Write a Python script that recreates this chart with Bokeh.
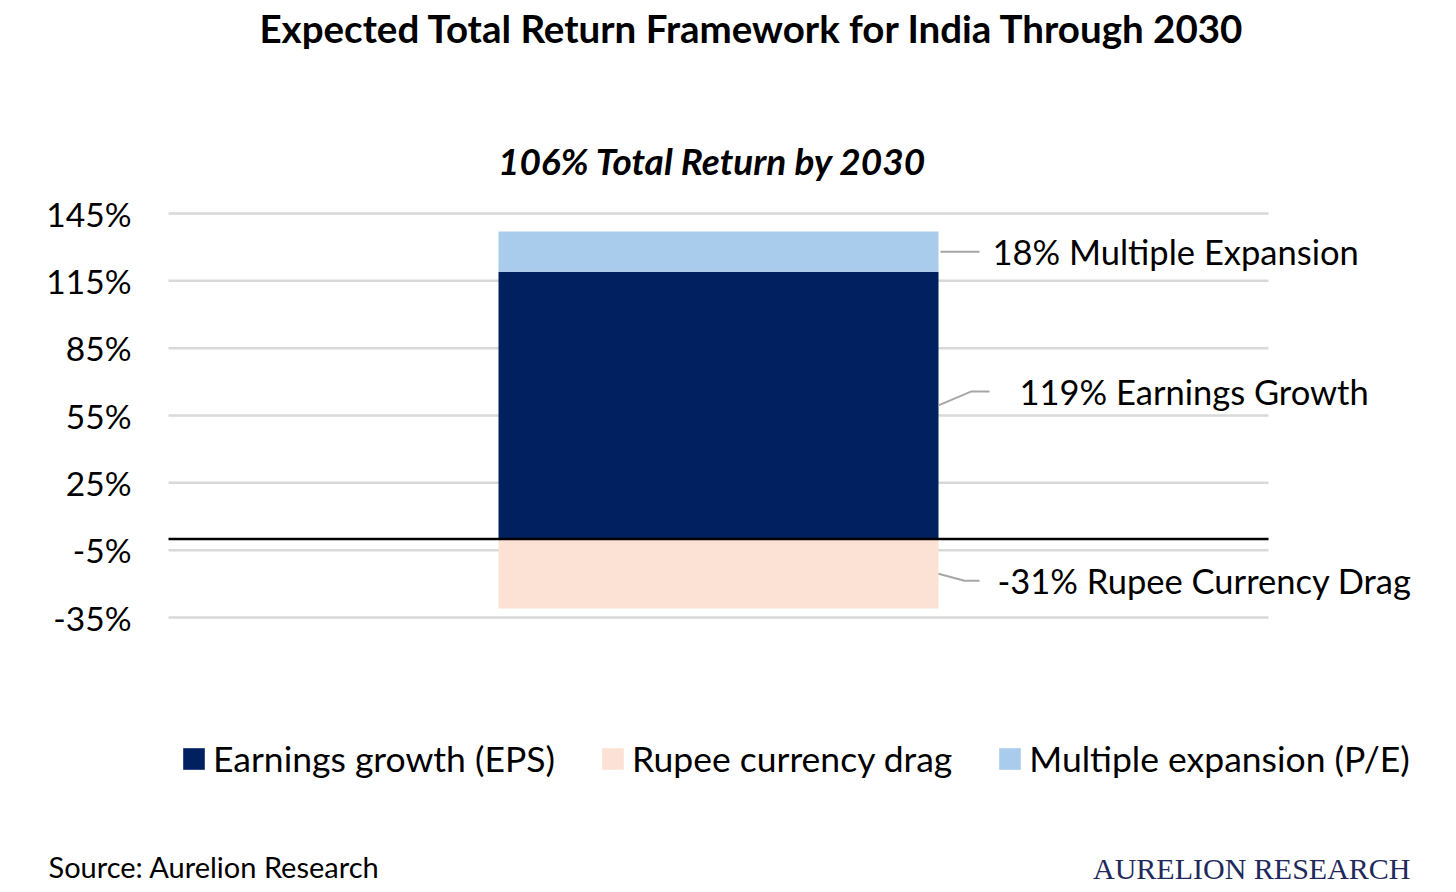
from bokeh.core.properties import value
from bokeh.models import Range1d, Label, Legend, LegendItem
from bokeh.plotting import figure
from bokeh.embed import file_html
from bokeh.resources import INLINE

# Data (percent)
categories = ["India"]
earnings_growth = [119]
multiple_expansion = [18]
rupee_drag = [-31]
y_ticks = [-35, -5, 25, 55, 85, 115, 145]
legend_labels = ["Earnings growth (EPS)", "Rupee currency drag", "Multiple expansion (P/E)"]

NAVY = "#002060"
LIGHT_BLUE = "#a9cbec"
PEACH = "#fbe2d5"
GRID = "#d9d9d9"
LEADER = "#a6a6a6"
FONT = "Lato"

# canvas and plotting-area geometry (pixels); the frame fills the whole canvas
W, H = 1452, 888
AREA_L, AREA_R, AREA_T, AREA_B = 168, 1268, 213, 617
px_x = 1.0 / (AREA_R - AREA_L)                         # x data units per pixel
px_y = (y_ticks[-1] - y_ticks[0]) / (AREA_B - AREA_T)  # y data units per pixel

x_range = Range1d(-AREA_L * px_x, (W - AREA_L) * px_x)
y_range = Range1d(y_ticks[0] - (H - AREA_B) * px_y, y_ticks[-1] + AREA_T * px_y)

p = figure(width=W, height=H, output_backend="svg", toolbar_location=None,
           x_range=x_range, y_range=y_range, min_border=0)
p.outline_line_color = None
p.axis.visible = False
p.grid.visible = False

# grid lines and tick labels
p.segment(x0=0, x1=1, y0=y_ticks, y1=y_ticks, line_color=GRID, line_width=2.5)
p.text(x=0, y=y_ticks, text=[f"{t}%" for t in y_ticks], x_offset=-37,
       text_align="right", text_baseline="middle", text_font=value(FONT),
       text_font_size="33.5px", text_color="#000000")

xc, bw = 0.5, 0.4
eps = p.vbar(x=xc, width=bw, bottom=0, top=earnings_growth[0], fill_color=NAVY, line_color=None)
rup = p.vbar(x=xc, width=bw, bottom=rupee_drag[0], top=0, fill_color=PEACH, line_color=None)
pe = p.vbar(x=xc, width=bw, bottom=earnings_growth[0],
            top=earnings_growth[0] + multiple_expansion[0], fill_color=LIGHT_BLUE, line_color=None)

# zero line
p.segment(x0=0, x1=1, y0=0, y1=0, line_color="black", line_width=2.5)

# leader lines and data labels
edge = xc + bw / 2
pe_mid = earnings_growth[0] + multiple_expansion[0] / 2
eps_mid = earnings_growth[0] / 2
rup_mid = rupee_drag[0] / 2
eps_lab = eps_mid + 14 * px_y
rup_lab = rup_mid - 7 * px_y
p.multi_line(
    xs=[[edge + 2 * px_x, edge + 41 * px_x],
        [edge, edge + 33 * px_x, edge + 51 * px_x],
        [edge, edge + 26 * px_x, edge + 41 * px_x]],
    ys=[[pe_mid, pe_mid],
        [eps_mid, eps_lab, eps_lab],
        [rup_mid, rup_lab, rup_lab]],
    line_color=LEADER, line_width=2)

p.text(x=[edge + 54 * px_x, edge + 81 * px_x, edge + 59 * px_x],
       y=[pe_mid, eps_lab, rup_lab],
       text=[f"{multiple_expansion[0]}% Multiple Expansion",
             f"{earnings_growth[0]}% Earnings Growth",
             f"{rupee_drag[0]}% Rupee Currency Drag"],
       text_align="left", text_baseline="middle", text_font=value(FONT),
       text_font_size="34.5px", text_color="#000000")

# titles and footer (screen units, from canvas bottom-left)
p.add_layout(Label(x=752, y=H - 27, x_units="screen", y_units="screen",
                   text="Expected Total Return Framework for India Through 2030",
                   text_font=FONT, text_font_style="bold", text_font_size="38.5px",
                   text_align="center", text_baseline="middle", text_color="#000000"))
total = earnings_growth[0] + multiple_expansion[0] + rupee_drag[0]
p.add_layout(Label(x=712, y=H - 160, x_units="screen", y_units="screen",
                   text=f"{total}% Total Return by 2030",
                   text_font=FONT, text_font_style="bold italic", text_font_size="37px",
                   text_align="center", text_baseline="middle", text_color="#000000"))
p.add_layout(Label(x=48, y=H - 866, x_units="screen", y_units="screen",
                   text="Source: Aurelion Research",
                   text_font=FONT, text_font_size="29px",
                   text_align="left", text_baseline="middle", text_color="#000000"))
p.add_layout(Label(x=1410, y=H - 868, x_units="screen", y_units="screen",
                   text="AURELION RESEARCH",
                   text_font="Liberation Serif", text_font_size="30px",
                   text_align="right", text_baseline="middle", text_color="#1f2a5c"))

# legend glyph box is inset 10% per side when drawn, so the box is sized up
legend = Legend(items=[LegendItem(label=legend_labels[0], renderers=[eps]),
                       LegendItem(label=legend_labels[1], renderers=[rup]),
                       LegendItem(label=legend_labels[2], renderers=[pe])],
                orientation="horizontal", location=(180, H - 780),
                glyph_width=27, glyph_height=27, label_standoff=6, spacing=44,
                padding=0, margin=0, border_line_color=None, background_fill_alpha=0,
                label_text_font=FONT, label_text_font_size="35.5px", label_text_color="#000000")
p.add_layout(legend)

open("out.html", "w").write(file_html(p, INLINE))
